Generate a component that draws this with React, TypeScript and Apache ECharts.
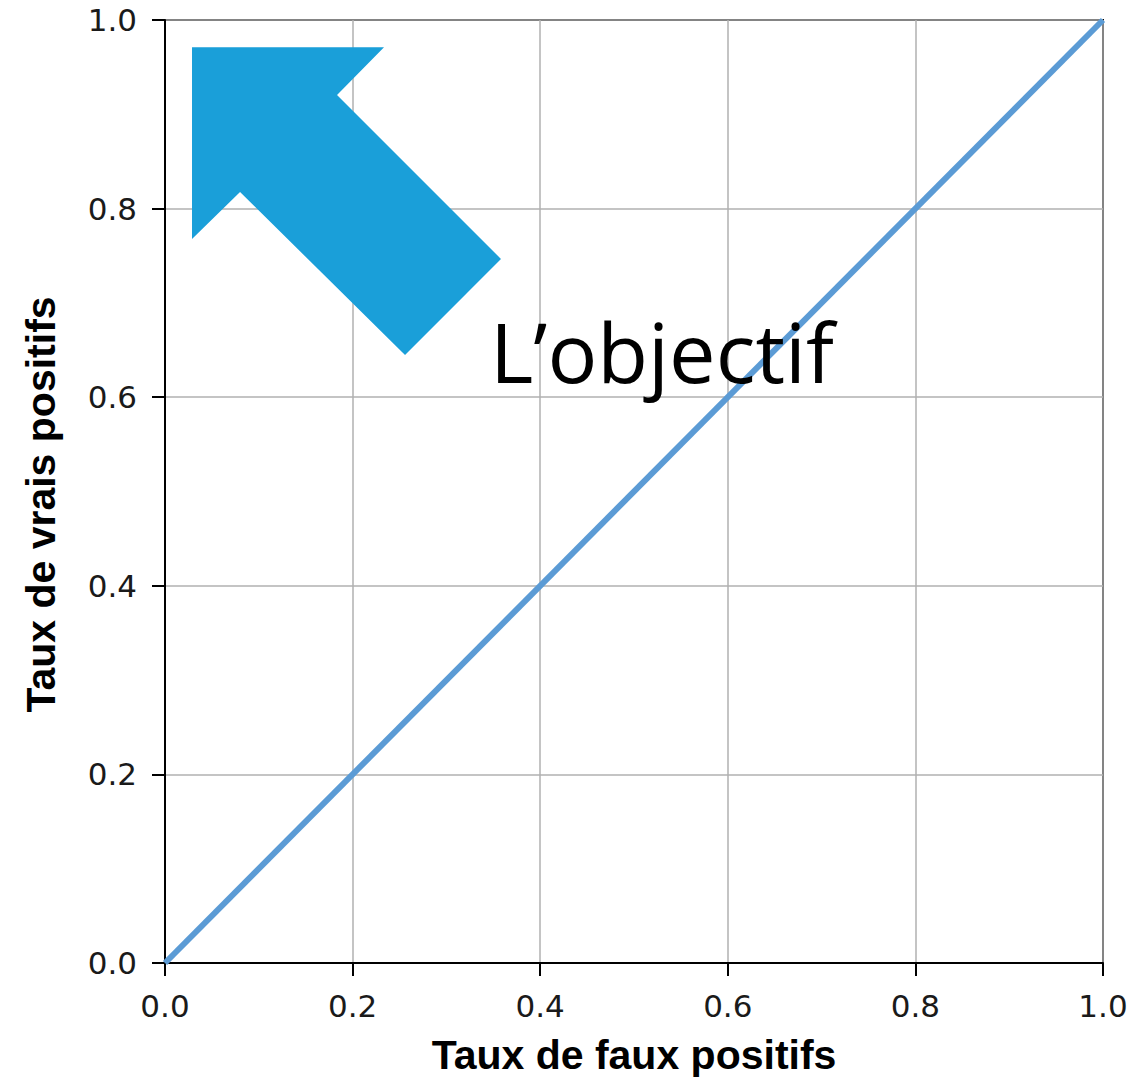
import React, { useEffect, useRef } from "react";
import * as echarts from "echarts";

const fauxPositifs = [0, 1];
const vraisPositifs = [0, 1];
const tickValues = [0, 0.2, 0.4, 0.6, 0.8, 1.0];
const xTitle = "Taux de faux positifs";
const yTitle = "Taux de vrais positifs";
const annotation = "L\u2019objectif";
// arrow outline in data units (annotation)
const arrowX = [0.0288, 0.2335, 0.1834, 0.3582, 0.2559, 0.08, 0.0288];
const arrowY = [0.971, 0.971, 0.9205, 0.7466, 0.6448, 0.8176, 0.7678];

export default function App() {
  const ref = useRef<HTMLDivElement>(null);
  useEffect(() => {
    document.body.style.margin = "0";
    const chart = echarts.init(ref.current!, null, { renderer: "svg" });
    const axisCommon = {
      type: "value",
      min: tickValues[0],
      max: tickValues[tickValues.length - 1],
      interval: 0.2,
      axisLine: { show: true, lineStyle: { color: "#000", width: 2 } },
      axisTick: { show: true, inside: false, length: 13, lineStyle: { color: "#000", width: 2 } },
      splitLine: { show: true, lineStyle: { color: "#b0b0b0", width: 1.5 } },
      axisLabel: {
        fontFamily: "DejaVu Sans",
        fontSize: 31,
        color: "#1a1a1a",
        formatter: (v: number) => v.toFixed(1),
      },
      nameLocation: "middle",
      nameTextStyle: {
        fontFamily: "Liberation Sans",
        fontWeight: "bold",
        fontSize: 41,
        color: "#000",
      },
    };
    chart.setOption({
      animation: false,
      backgroundColor: "#fff",
      grid: {
        left: 165,
        right: 33,
        top: 20,
        bottom: 117,
        show: true,
        borderColor: "#000",
        borderWidth: 2,
      },
      xAxis: {
        ...axisCommon,
        name: xTitle,
        nameGap: 71,
        axisLabel: { ...axisCommon.axisLabel, margin: 27 },
      },
      yAxis: {
        ...axisCommon,
        name: yTitle,
        nameGap: 104,
        nameTextStyle: { ...axisCommon.nameTextStyle, padding: [0, 26, 0, 0] },
        axisLabel: { ...axisCommon.axisLabel, margin: 28 },
      },
      series: [
        {
          type: "line",
          data: fauxPositifs.map((x, i) => [x, vraisPositifs[i]]),
          showSymbol: false,
          lineStyle: { color: "#5b9bd5", width: 6 },
          z: 3,
        },
      ],
    });
    const pts = arrowX.map((x, i) => chart.convertToPixel({ gridIndex: 0 }, [x, arrowY[i]]));
    chart.setOption({
      graphic: [
        {
          type: "polygon",
          shape: { points: pts },
          style: { fill: "#1a9fd9" },
          z: 10,
        },
        {
          type: "text",
          x: 490,
          y: 350,
          style: {
            text: annotation,
            fontFamily: "Open Sans",
            fontSize: 83,
            fill: "#000",
            textVerticalAlign: "middle",
            verticalAlign: "middle",
          },
          z: 10,
        },
      ],
    });
    return () => chart.dispose();
  }, []);
  return <div ref={ref} style={{ width: 1136, height: 1080 }} />;
}
